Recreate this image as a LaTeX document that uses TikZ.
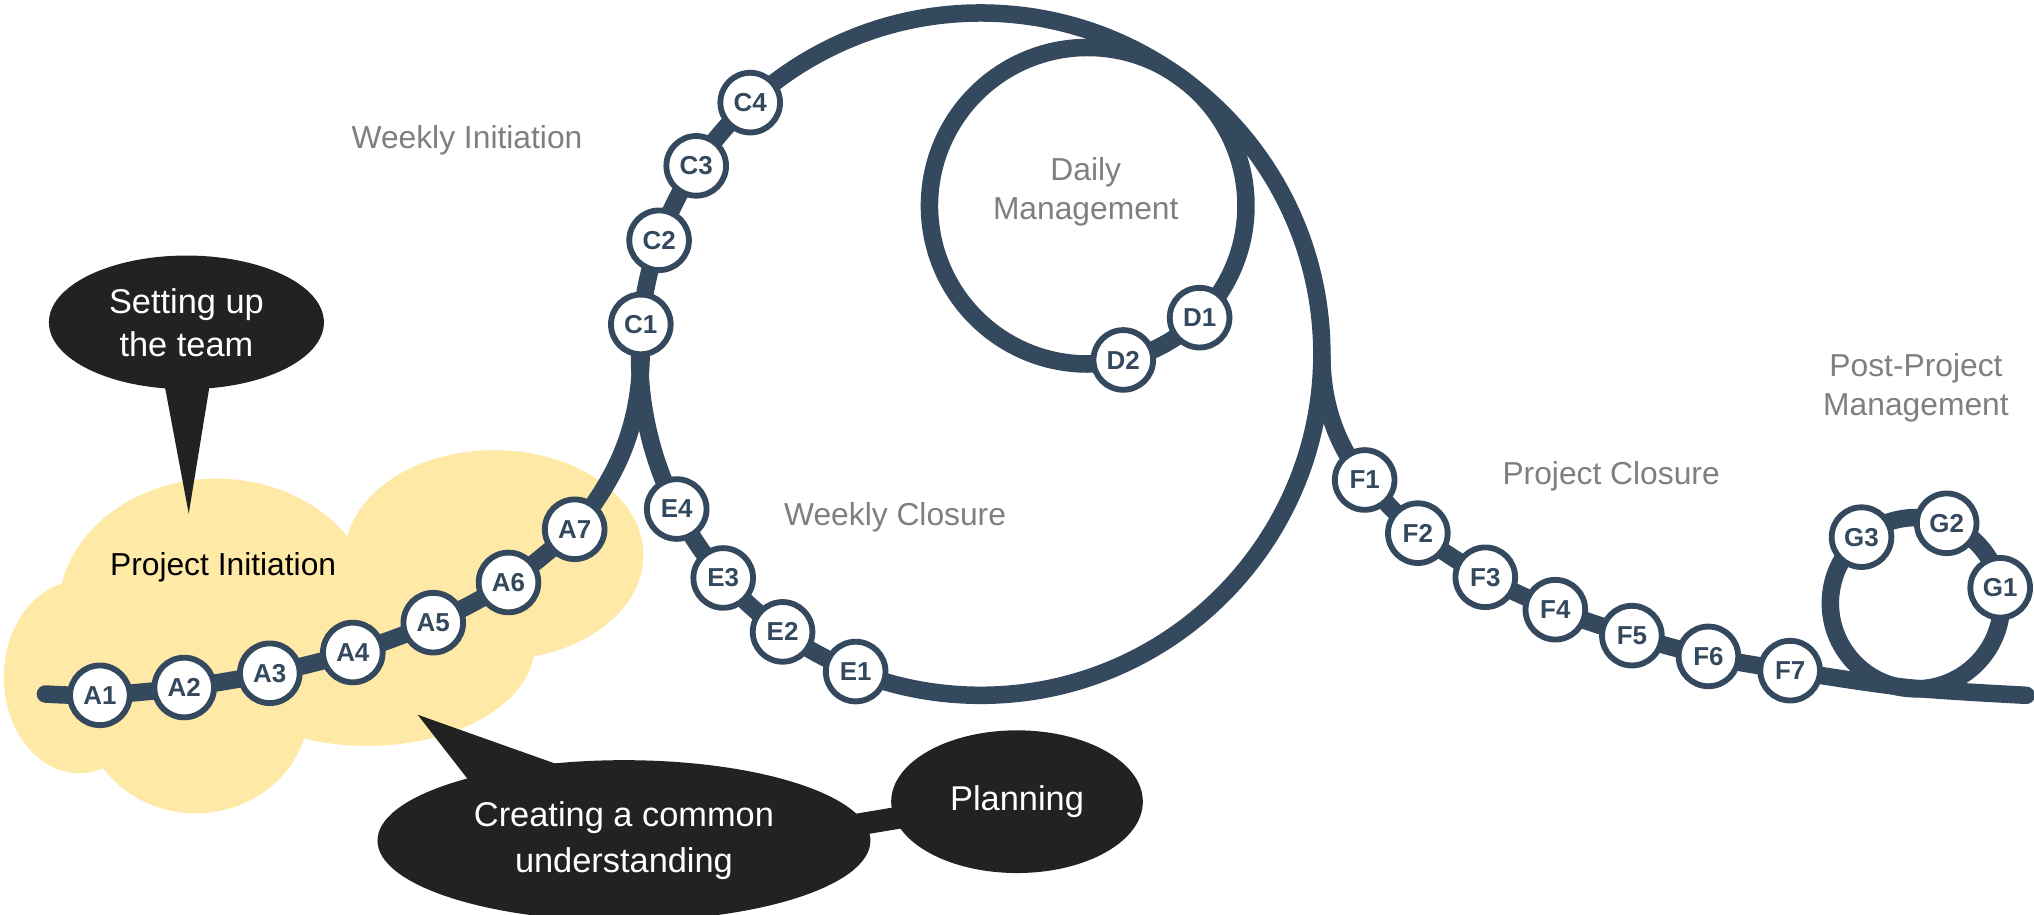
\documentclass[tikz,border=0pt]{standalone}
\usepackage{fontspec}
\setmainfont{Liberation Sans}
\usetikzlibrary{calc,shapes.geometric}
\definecolor{routeblue}{HTML}{34495E}
\definecolor{cloudyellow}{HTML}{FFE9A6}
\definecolor{bubblegray}{HTML}{222222}
\definecolor{labelgray}{HTML}{7F7F7F}
\pgfdeclarelayer{cloudlayer}
\pgfdeclarelayer{routelayer}
\pgfsetlayers{cloudlayer,routelayer,main}
\begin{document}
\begin{tikzpicture}[x=1pt,y=-1pt,
  stopnode/.style={circle, draw=routeblue, line width=4.5pt, fill=white, minimum size=46pt, inner sep=0pt,
    font=\fontsize{20}{20}\selectfont\bfseries, text=routeblue},
  routeline/.style={draw=routeblue, line width=13.5pt},
  bubble/.style={ellipse, fill=bubblegray, text=white, inner sep=0pt, align=center},
  phase/.style={font=\fontsize{24.5}{30}\selectfont, text=labelgray, align=center, inner sep=0pt}]
\useasboundingbox (0,0) rectangle (1568,705);
% centres of the loops
\coordinate (O) at (756,273);
\coordinate (Dc) at (838.5,158.6);
\coordinate (Gc) at (1477,465);
\coordinate (Astart) at (35,535);
\coordinate (Fstart) at ($(O)+(0:263)$);
\coordinate (Gend) at (1562,536);
% A chain
\node[stopnode] (A1) at (77,536) {A1};
\node[stopnode] (A2) at (142,530) {A2};
\node[stopnode] (A3) at (208,519) {A3};
\node[stopnode] (A4) at (272,503) {A4};
\node[stopnode] (A5) at (334,480) {A5};
\node[stopnode] (A6) at (392,449) {A6};
\node[stopnode] (A7) at (443,408) {A7};
% C chain
\node[stopnode] (C1) at ($(O)+(185:263)$) {C1};
\node[stopnode] (C2) at ($(O)+(199.5:263)$) {C2};
\node[stopnode] (C3) at ($(O)+(213.5:263)$) {C3};
\node[stopnode] (C4) at ($(O)+(227.5:263)$) {C4};
% D chain
\node[stopnode] (D1) at ($(Dc)+(45:122)$) {D1};
\node[stopnode] (D2) at ($(Dc)+(77:122)$) {D2};
% E chain
\node[stopnode] (E1) at ($(O)+(111.5:263)$) {E1};
\node[stopnode] (E2) at ($(O)+(125.5:263)$) {E2};
\node[stopnode] (E3) at ($(O)+(139:263)$) {E3};
\node[stopnode] (E4) at ($(O)+(153:263)$) {E4};
% F chain
\node[stopnode] (F1) at (1052,370) {F1};
\node[stopnode] (F2) at (1093,411) {F2};
\node[stopnode] (F3) at (1145,445) {F3};
\node[stopnode] (F4) at (1199,470) {F4};
\node[stopnode] (F5) at (1258,490) {F5};
\node[stopnode] (F6) at (1317,506) {F6};
\node[stopnode] (F7) at (1380,517) {F7};
% G chain
\node[stopnode] (G1) at ($(Gc)+(349.6:66)$) {G1};
\node[stopnode] (G2) at ($(Gc)+(291:66)$) {G2};
\node[stopnode] (G3) at ($(Gc)+(230.5:66)$) {G3};
% labels
\node[phase] (lwi) at (360,108) {Weekly Initiation};
\node[phase] (ldm) at (837,148) {Daily\\Management};
\node[phase] (lwc) at (690,399) {Weekly Closure};
\node[phase] (lpc) at (1242,367) {Project Closure};
\node[phase] (lpp) at (1477,299) {Post-Project\\Management};
\node[phase, text=black] (lpi) at (172,437) {Project Initiation};
% callouts
\node[bubble, minimum width=212pt, minimum height=103pt, font=\fontsize{26.5}{33}\selectfont] (setup) at (143.7,248.5) {Setting up\\the team};
\node[bubble, minimum width=380pt, minimum height=124pt, font=\fontsize{26.5}{35}\selectfont] (create) at (481,648) {Creating a common\\understanding};
\node[bubble, minimum width=194pt, minimum height=110pt, font=\fontsize{26.5}{33}\selectfont] (plan) at (784,618) {Planning};
\coordinate (setuptip) at (145.5,396);
\coordinate (createtip) at (322,551);
% cloud
\begin{pgfonlayer}{cloudlayer}
\fill[cloudyellow] (167,471) ellipse[x radius=122, y radius=102];
\fill[cloudyellow] (381,428) ellipse[x radius=115, y radius=81];
\fill[cloudyellow] (283,498) ellipse[x radius=129, y radius=77];
\fill[cloudyellow] (151,546) ellipse[x radius=87, y radius=81];
\fill[cloudyellow] (61,522) ellipse[x radius=58, y radius=74];
\end{pgfonlayer}
% routes, tails
\begin{pgfonlayer}{routelayer}
\draw[routeline] (O) circle[radius=263];
\draw[routeline] (Dc) circle[radius=122];
\draw[routeline] (Gc) circle[radius=66];
\draw[routeline, line cap=round] plot[smooth, tension=0.5] coordinates {(Astart) (A1.center) (A2.center) (A3.center) (A4.center) (A5.center) (A6.center) (A7.center)};
\draw[routeline] (A7.center) .. controls (482,360) and (497,318) .. (C1.center);
\draw[routeline] (Fstart) .. controls (1019,320) and (1036,350) .. (F1.center);
\draw[routeline, line cap=round] plot[smooth, tension=0.5] coordinates {(F1.center) (F2.center) (F3.center) (F4.center) (F5.center) (F6.center) (F7.center) (1470,530) (Gend)};
\fill[bubblegray] ($(setup.center)+(-18,42)$) -- (setuptip) -- ($(setup.center)+(19,42)$) -- cycle;
\fill[bubblegray] ($(create.center)+(-113.5,-38.5)$) -- (createtip) -- ($(create.center)+(-47.4,-57.4)$) -- cycle;
\draw[bubblegray, line width=17pt] ($(create.center)+(0,18)$) -- ($(plan.center)+(0,-3)$);
\end{pgfonlayer}
\end{tikzpicture}
\end{document}
